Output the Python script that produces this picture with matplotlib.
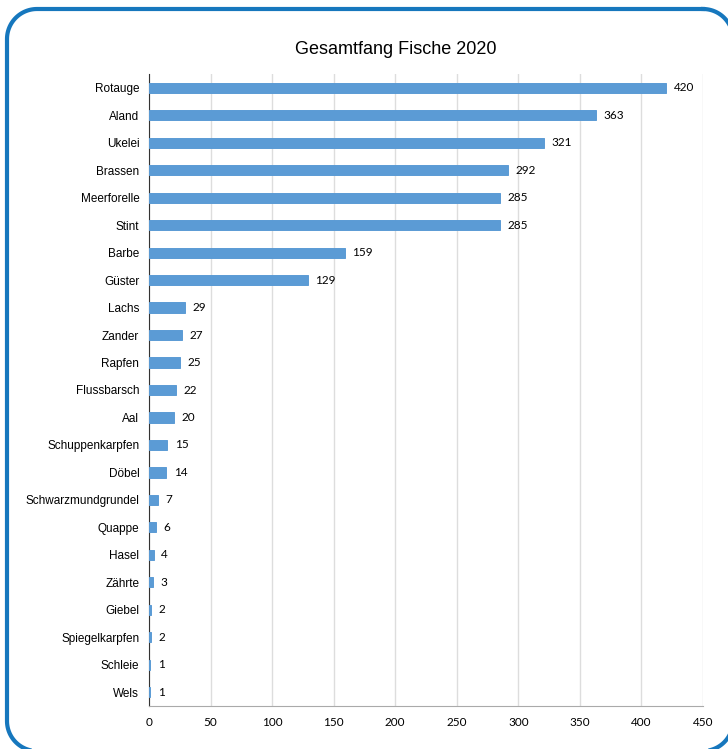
import matplotlib
matplotlib.use("Agg")
import matplotlib.pyplot as plt
import numpy as np

fische = ["Rotauge", "Aland", "Ukelei", "Brassen", "Meerforelle", "Stint",
          "Barbe", "Güster", "Lachs", "Zander", "Rapfen", "Flussbarsch", "Aal",
          "Schuppenkarpfen", "Döbel", "Schwarzmundgrundel", "Quappe", "Hasel",
          "Zährte", "Giebel", "Spiegelkarpfen", "Schleie", "Wels"]
anzahl = [420, 363, 321, 292, 285, 285, 159, 129, 29, 27, 25, 22, 20,
          15, 14, 7, 6, 4, 3, 2, 2, 1, 1]
x_ticks = [0, 50, 100, 150, 200, 250, 300, 350, 400, 450]

plt.rcParams['font.family'] = ['Liberation Sans', 'DejaVu Sans']

fig = plt.figure(figsize=(7.28, 7.49), dpi=100)
W, H = 728, 749

# blauer Rahmen als Polylinie (Pixelkoordinaten, y nach unten)
bg = fig.add_axes([0, 0, 1, 1], zorder=10)
bg.set_xlim(0, W)
bg.set_ylim(H, 0)
bg.axis("off")
bg.patch.set_visible(False)
x0, x1, y0, y1, r = 7, 733, 9, 751, 30
xs, ys = [], []
for cx, cy, a0 in [(x1 - r, y0 + r, -90), (x1 - r, y1 - r, 0),
                   (x0 + r, y1 - r, 90), (x0 + r, y0 + r, 180)]:
    t = np.radians(np.linspace(a0, a0 + 90, 30))
    xs += list(cx + r * np.cos(t))
    ys += list(cy + r * np.sin(t))
xs.append(xs[0])
ys.append(ys[0])
bg.plot(xs, ys, color="#1677bd", linewidth=3.0, solid_joinstyle="round")

ax = fig.add_axes([149 / W, 1 - 706 / H, (703 - 149) / W, (706 - 74) / H])

y = list(range(len(fische)))
ax.barh(y, anzahl, height=0.37, color="#5b9bd5", edgecolor="#5b9bd5",
        linewidth=0.7, zorder=3)
for yi, v in zip(y, anzahl):
    ax.text(v + 6, yi, str(v), va="center", ha="left", fontsize=8.5,
            family=['Lato', 'DejaVu Sans'], color="black")

ax.set_yticks(y)
ax.set_yticklabels(fische, fontsize=8.5)
ax.set_ylim(len(fische) - 0.5, -0.5)
ax.set_xlim(0, 450)
ax.set_xticks(x_ticks)
ax.set_xticklabels([str(t) for t in x_ticks], fontsize=8.5,
                   family=['Lato', 'DejaVu Sans'])
ax.tick_params(axis="both", length=0)
ax.tick_params(axis="y", pad=7)
ax.tick_params(axis="x", pad=8)
ax.grid(axis="x", color="#dddddd", linewidth=1, zorder=0)
ax.set_axisbelow(True)
for s in ["top", "right"]:
    ax.spines[s].set_visible(False)
ax.spines["left"].set_color("#333333")
ax.spines["bottom"].set_color("#aaaaaa")

fig.text(396 / W, 1 - 50 / H, "Gesamtfang Fische 2020", ha="center",
         va="center", fontsize=13)

fig.savefig("out.png", dpi=100)
